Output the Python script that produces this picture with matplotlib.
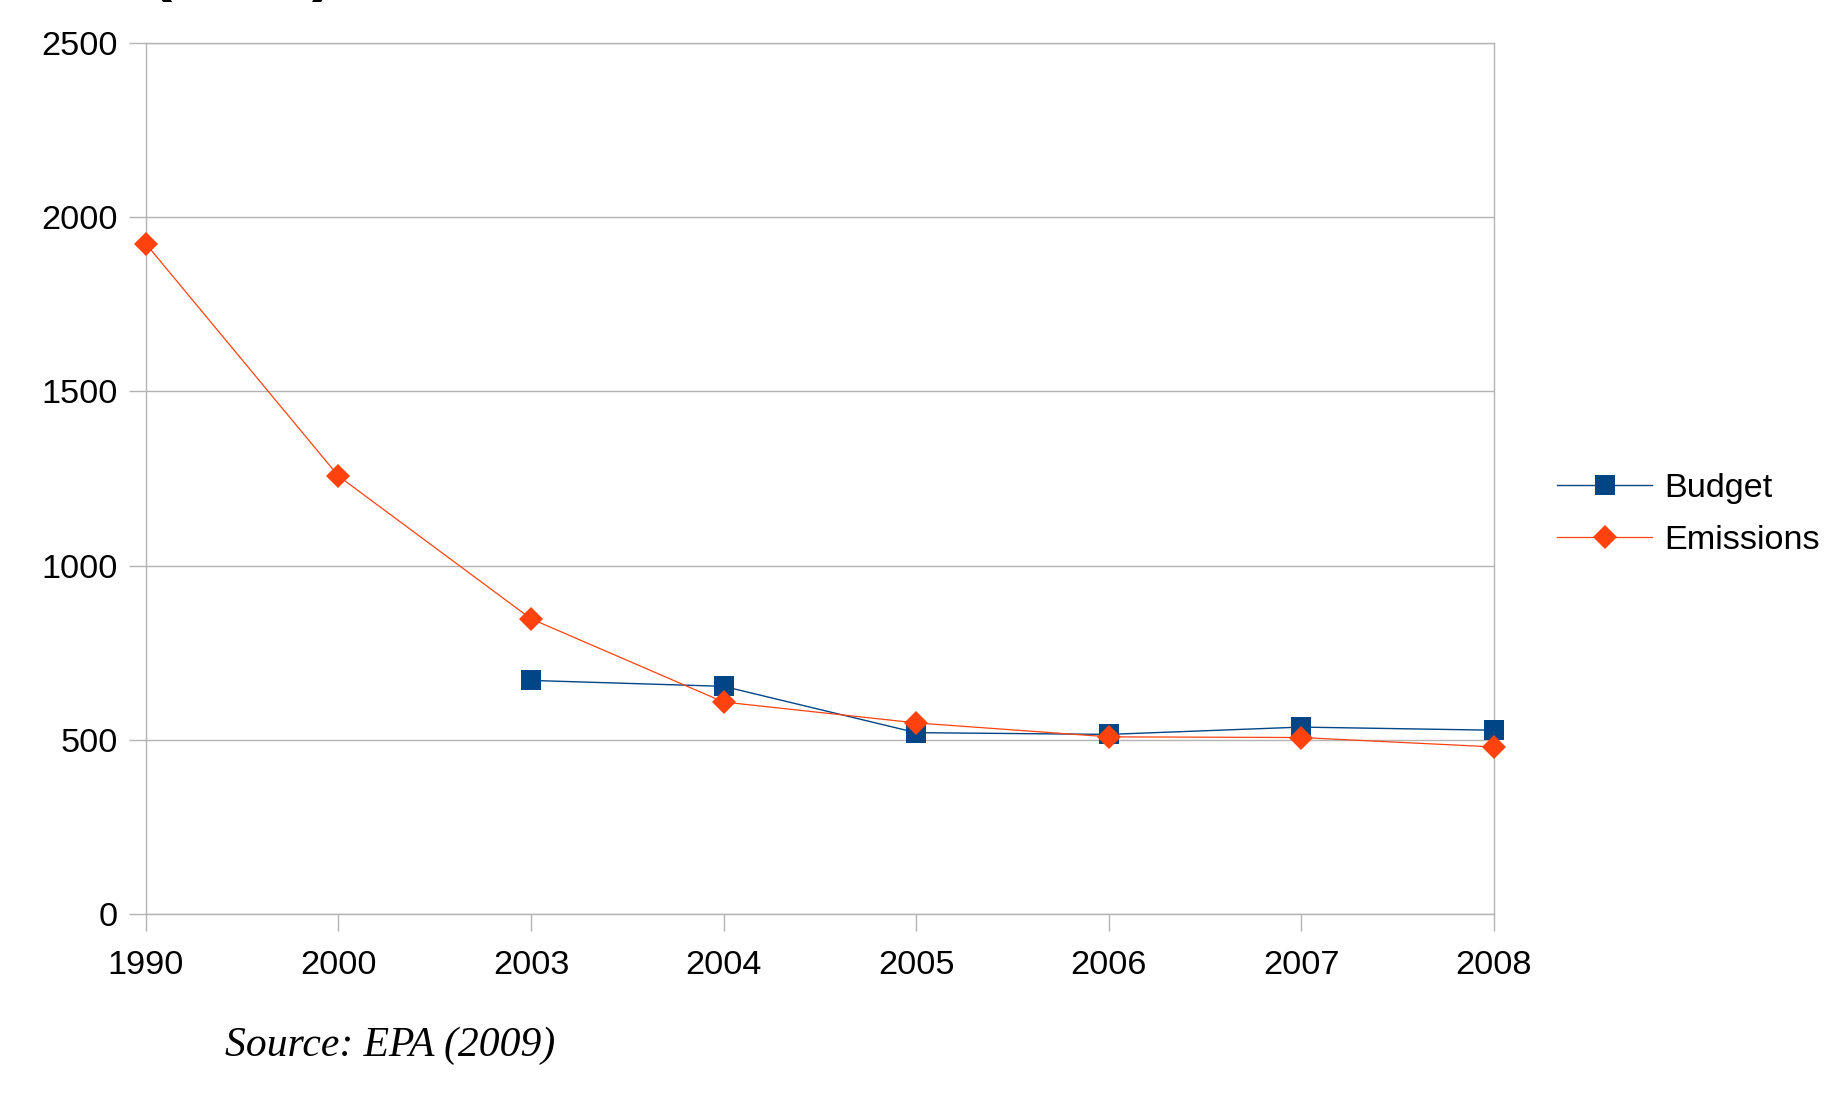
import matplotlib
matplotlib.use("Agg")
import matplotlib.pyplot as plt
import numpy as np

years = ["1990", "2000", "2003", "2004", "2005", "2006", "2007", "2008"]
emissions = [1924, 1257, 847, 608, 548, 508, 506, 479]
budget_years = ["2003", "2004", "2005", "2006", "2007", "2008"]
budget = [670, 653, 520, 515, 536, 527]
y_ticks = [0, 500, 1000, 1500, 2000, 2500]

BLUE = "#004586"
ORANGE = "#ff420e"
GRID = "#b3b3b3"
FS = 24.7

plt.rcParams["font.family"] = ["Liberation Sans", "DejaVu Sans"]

fig = plt.figure(figsize=(18.3, 11.18), dpi=100)
ax = fig.add_axes([0.0797, 0.1827, 0.8163 - 0.0797, 0.9614 - 0.1827])

x_all = np.arange(len(years))
x_budget = [years.index(y) for y in budget_years]

ax.plot(x_budget, budget, color=BLUE, lw=1.0, marker="s", markersize=15,
        markeredgewidth=0, label="Budget", clip_on=False, zorder=3)
ax.plot(x_all, emissions, color=ORANGE, lw=0.9, marker="D", markersize=12,
        markeredgewidth=0, label="Emissions", clip_on=False, zorder=4)

ax.set_xlim(0, len(years) - 1)
ax.set_ylim(0, 2500)
ax.set_xticks(x_all)
ax.set_xticklabels(years)
ax.set_yticks(y_ticks)
ax.yaxis.grid(True, color=GRID, lw=1.0)
ax.set_axisbelow(True)

for side in ["left", "bottom", "right", "top"]:
    ax.spines[side].set_color(GRID)
    ax.spines[side].set_linewidth(1.0)

ax.tick_params(axis="both", direction="out", length=12, width=1.0,
               color=GRID, labelsize=FS, labelcolor="black")
ax.tick_params(axis="y", pad=8)
ax.tick_params(axis="x", pad=14)

fig.legend(loc="center left", bbox_to_anchor=(0.851, 0.540), frameon=False,
           fontsize=FS, handlelength=2.75, handletextpad=0.36,
           labelspacing=0.62, borderpad=0, borderaxespad=0)

# y-axis title, cut off by the top edge of the original picture
fig.text(0.0815, 1.0 + 12 / 1118, "(tons)", fontsize=48, fontweight="bold",
         va="baseline", ha="left")

fig.text(0.123, 1 - 905 / 958, "Source: EPA (2009)", fontsize=30,
         family=["Liberation Serif", "DejaVu Serif"], style="italic",
         va="baseline", ha="left")

fig.savefig("out.png", dpi=100)
